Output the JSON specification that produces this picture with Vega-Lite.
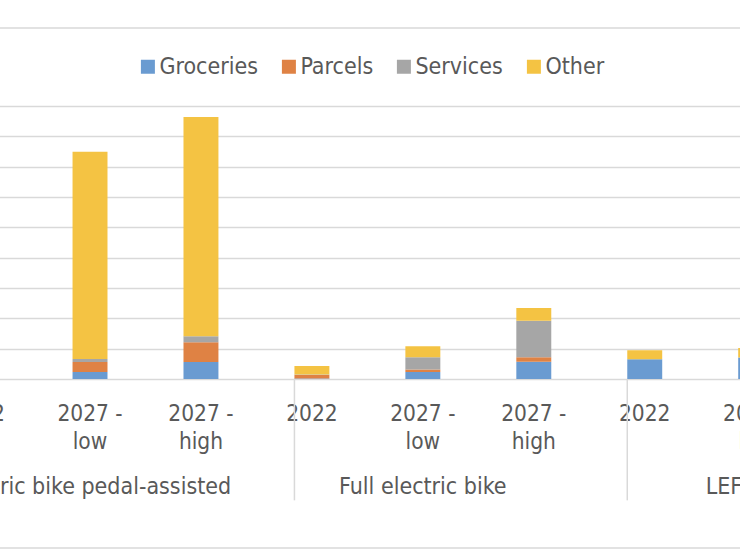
{
  "$schema": "https://vega.github.io/schema/vega-lite/v6.json",
  "autosize": "none",
  "width": 760,
  "height": 520,
  "padding": {"left": -10, "top": 28, "right": 0, "bottom": 12},
  "background": "white",
  "config": {
    "font": "DejaVu Sans Condensed",
    "view": {"stroke": "#d9d9d9", "strokeWidth": 1.5}
  },
  "datasets": {
    "bars": [
      {"bar": "Electric bike pedal-assisted / 2022", "segment": "Groceries", "rank": 1, "value": 3.0},
      {"bar": "Electric bike pedal-assisted / 2022", "segment": "Parcels", "rank": 2, "value": 1.0},
      {"bar": "Electric bike pedal-assisted / 2022", "segment": "Services", "rank": 3, "value": 0.5},
      {"bar": "Electric bike pedal-assisted / 2022", "segment": "Other", "rank": 4, "value": 5.0},
      {"bar": "Electric bike pedal-assisted / 2027 - low", "segment": "Groceries", "rank": 1, "value": 2.3},
      {"bar": "Electric bike pedal-assisted / 2027 - low", "segment": "Parcels", "rank": 2, "value": 3.3},
      {"bar": "Electric bike pedal-assisted / 2027 - low", "segment": "Services", "rank": 3, "value": 1.0},
      {"bar": "Electric bike pedal-assisted / 2027 - low", "segment": "Other", "rank": 4, "value": 68.3},
      {"bar": "Electric bike pedal-assisted / 2027 - high", "segment": "Groceries", "rank": 1, "value": 5.6},
      {"bar": "Electric bike pedal-assisted / 2027 - high", "segment": "Parcels", "rank": 2, "value": 6.5},
      {"bar": "Electric bike pedal-assisted / 2027 - high", "segment": "Services", "rank": 3, "value": 2.0},
      {"bar": "Electric bike pedal-assisted / 2027 - high", "segment": "Other", "rank": 4, "value": 72.3},
      {"bar": "Full electric bike / 2022", "segment": "Groceries", "rank": 1, "value": 0.2},
      {"bar": "Full electric bike / 2022", "segment": "Parcels", "rank": 2, "value": 1.1},
      {"bar": "Full electric bike / 2022", "segment": "Services", "rank": 3, "value": 0.2},
      {"bar": "Full electric bike / 2022", "segment": "Other", "rank": 4, "value": 2.8},
      {"bar": "Full electric bike / 2027 - low", "segment": "Groceries", "rank": 1, "value": 2.3},
      {"bar": "Full electric bike / 2027 - low", "segment": "Parcels", "rank": 2, "value": 0.8},
      {"bar": "Full electric bike / 2027 - low", "segment": "Services", "rank": 3, "value": 4.1},
      {"bar": "Full electric bike / 2027 - low", "segment": "Other", "rank": 4, "value": 3.6},
      {"bar": "Full electric bike / 2027 - high", "segment": "Groceries", "rank": 1, "value": 5.7},
      {"bar": "Full electric bike / 2027 - high", "segment": "Parcels", "rank": 2, "value": 1.5},
      {"bar": "Full electric bike / 2027 - high", "segment": "Services", "rank": 3, "value": 12.0},
      {"bar": "Full electric bike / 2027 - high", "segment": "Other", "rank": 4, "value": 4.2},
      {"bar": "LEFV bike / 2022", "segment": "Groceries", "rank": 1, "value": 6.5},
      {"bar": "LEFV bike / 2022", "segment": "Other", "rank": 4, "value": 3.0},
      {"bar": "LEFV bike / 2027 - low", "segment": "Groceries", "rank": 1, "value": 7.1},
      {"bar": "LEFV bike / 2027 - low", "segment": "Other", "rank": 4, "value": 3.1},
      {"bar": "LEFV bike / 2027 - high", "segment": "Groceries", "rank": 1, "value": 9.0},
      {"bar": "LEFV bike / 2027 - high", "segment": "Other", "rank": 4, "value": 4.0}
    ],
    "separators": [
      {"bar": "Full electric bike / 2022"},
      {"bar": "LEFV bike / 2022"}
    ]
  },
  "layer": [
    {
      "data": {"name": "bars"},
      "mark": {"type": "bar"},
      "encoding": {
        "x": {
          "field": "bar",
          "type": "nominal",
          "scale": {
            "domain": [
              "Electric bike pedal-assisted / 2022",
              "Electric bike pedal-assisted / 2027 - low",
              "Electric bike pedal-assisted / 2027 - high",
              "Full electric bike / 2022",
              "Full electric bike / 2027 - low",
              "Full electric bike / 2027 - high",
              "LEFV bike / 2022",
              "LEFV bike / 2027 - low",
              "LEFV bike / 2027 - high"
            ],
            "range": [-66.4, 932.1],
            "paddingInner": 0.685,
            "paddingOuter": 0.3425
          },
          "axis": {
            "orient": "bottom",
            "offset": -169,
            "title": null,
            "domain": false,
            "ticks": false,
            "grid": false,
            "labelAngle": 0,
            "labelPadding": 41.7,
            "labelBaseline": "alphabetic",
            "labelFont": "DejaVu Sans Condensed",
            "labelFontSize": 22.5,
            "labelLineHeight": 27.6,
            "labelColor": "#595959",
            "labelOverlap": false,
            "labelBound": false,
            "labelFlush": false,
            "labelLimit": 0,
            "labelExpr": "split(replace(split(datum.value, ' / ')[1], ' - ', ' -|'), '|')"
          }
        },
        "y": {
          "field": "value",
          "type": "quantitative",
          "stack": "zero",
          "scale": {"domain": [0, 90], "range": [351, 78], "nice": false},
          "axis": {
            "title": null,
            "labels": false,
            "ticks": false,
            "domain": false,
            "grid": true,
            "gridColor": "#d9d9d9",
            "gridWidth": 1.5,
            "values": [0, 10, 20, 30, 40, 50, 60, 70, 80, 90]
          }
        },
        "order": {"field": "rank", "type": "quantitative", "sort": "ascending"},
        "color": {
          "field": "segment",
          "type": "nominal",
          "sort": ["Groceries", "Parcels", "Services", "Other"],
          "scale": {
            "domain": ["Groceries", "Parcels", "Services", "Other"],
            "range": ["#6a9bd1", "#df8244", "#a6a6a6", "#f4c343"]
          },
          "legend": {
            "orient": "none",
            "legendX": 146.4,
            "legendY": 27,
            "direction": "horizontal",
            "title": null,
            "symbolType": "square",
            "symbolSize": 196,
            "symbolStrokeWidth": 0,
            "labelFont": "DejaVu Sans Condensed",
            "labelFontSize": 23,
            "labelColor": "#595959",
            "labelOffset": 0,
            "columnPadding": 19,
            "labelLimit": 0
          }
        }
      }
    },
    {
      "data": {"name": "separators"},
      "mark": {"type": "rule", "color": "#d9d9d9", "strokeWidth": 1.5},
      "encoding": {
        "x": {
          "field": "bar",
          "type": "nominal",
          "bandPosition": 0,
          "axis": {
            "orient": "bottom",
            "offset": -169,
            "title": null,
            "domain": false,
            "ticks": false,
            "grid": false,
            "labelAngle": 0,
            "labelPadding": 114.3,
            "labelBaseline": "alphabetic",
            "labelFont": "DejaVu Sans Condensed",
            "labelFontSize": 23,
            "labelColor": "#595959",
            "labelOverlap": false,
            "labelBound": false,
            "labelFlush": false,
            "labelLimit": 0,
            "values": [
              "Electric bike pedal-assisted / 2027 - low",
              "Full electric bike / 2027 - low",
              "LEFV bike / 2027 - low"
            ],
            "labelExpr": "split(datum.value, ' / ')[0]"
          }
        },
        "y": {"datum": 0},
        "y2": {"datum": -40}
      }
    }
  ],
  "resolve": {"axis": {"x": "independent"}}
}
